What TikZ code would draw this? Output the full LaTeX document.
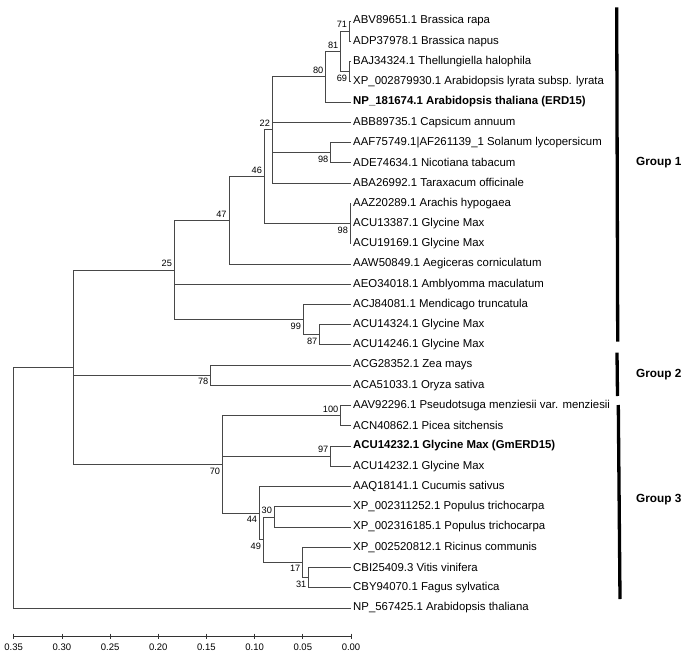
\documentclass[tikz,border=0pt]{standalone}
\usepackage{fontspec}
\setmainfont{Liberation Sans}
\usetikzlibrary{calc}

\begin{document}
\begin{tikzpicture}[
  x=1pt, y=-1pt,
  branch/.style={draw=black!72, line width=0.75pt},
  leaf/.style={anchor=west, inner sep=2pt, font=\fontsize{11.4}{13}\selectfont},
  boot/.style={inner xsep=2.2pt, inner ysep=3pt, font=\fontsize{9.2}{10}\selectfont},
  above boot/.style={boot, anchor=south east},
  below boot/.style={boot, anchor=north east},
  groupbar/.style={draw=black, line width=3.3pt},
  grouplabel/.style={anchor=west, inner sep=0pt, font=\fontsize{11.8}{13}\selectfont\bfseries},
  axis/.style={draw=black!80, line width=0.75pt},
  scalelabel/.style={anchor=north, inner sep=1pt, font=\fontsize{9.5}{11}\selectfont}
]
\useasboundingbox (0,0) rectangle (687,660);

% sequences, one row each
\foreach \i/\name in {
  1/ABV89651.1 Brassica rapa,
  2/ADP37978.1 Brassica napus,
  3/BAJ34324.1 Thellungiella halophila,
  4/XP\_002879930.1 Arabidopsis lyrata subsp. lyrata,
  5/{\bfseries NP\_181674.1 Arabidopsis thaliana (ERD15)},
  6/ABB89735.1 Capsicum annuum,
  7/AAF75749.1|AF261139\_1 Solanum lycopersicum,
  8/ADE74634.1 Nicotiana tabacum,
  9/ABA26992.1 Taraxacum officinale,
  10/AAZ20289.1 Arachis hypogaea,
  11/ACU13387.1 Glycine Max,
  12/ACU19169.1 Glycine Max,
  13/AAW50849.1 Aegiceras corniculatum,
  14/AEO34018.1 Amblyomma maculatum,
  15/ACJ84081.1 Mendicago truncatula,
  16/ACU14324.1 Glycine Max,
  17/ACU14246.1 Glycine Max,
  18/ACG28352.1 Zea mays,
  19/ACA51033.1 Oryza sativa,
  20/AAV92296.1 Pseudotsuga menziesii var. menziesii,
  21/ACN40862.1 Picea sitchensis,
  22/{\bfseries ACU14232.1 Glycine Max (GmERD15)},
  23/ACU14232.1 Glycine Max,
  24/AAQ18141.1 Cucumis sativus,
  25/XP\_002311252.1 Populus trichocarpa,
  26/XP\_002316185.1 Populus trichocarpa,
  27/XP\_002520812.1 Ricinus communis,
  28/CBI25409.3 Vitis vinifera,
  29/CBY94070.1 Fagus sylvatica,
  30/NP\_567425.1 Arabidopsis thaliana}
  \node[leaf] (l\i) at (351, {21+(\i-1)*20.24}) {\name};

% inner nodes of the tree
\coordinate (a71)  at (349.5, 31.12);
\coordinate (a69)  at (349.5, 71.60);
\coordinate (a81)  at (340.7, 51.36);
\coordinate (a80)  at (325.7, 76.66);
\coordinate (a98s) at (330.7, 152.56);
\coordinate (a22)  at (272.3, 129.79);
\coordinate (a98g) at (350.3, 223.40);
\coordinate (a46)  at (264.3, 176.60);
\coordinate (a47)  at (229.0, 220.24);
\coordinate (a87)  at (319.7, 334.72);
\coordinate (a99)  at (303.3, 319.54);
\coordinate (a25)  at (174.3, 269.89);
\coordinate (a78)  at (210.7, 375.20);
\coordinate (a100) at (340.7, 415.68);
\coordinate (a97)  at (330.7, 456.16);
\coordinate (a30)  at (274.3, 516.88);
\coordinate (a31)  at (308.7, 577.60);
\coordinate (a17)  at (302.7, 562.42);
\coordinate (a49)  at (263.3, 539.65);
\coordinate (a44)  at (259.5, 513.09);
\coordinate (a70)  at (222.5, 464.38);
\coordinate (a73)  at (73.3, 367.14);
\coordinate (root) at (13.3, 487.55);

% branches
\foreach \p/\kids in {
  a71/{l1,l2}, a69/{l3,l4}, a81/{a71,a69}, a80/{a81,l5},
  a98s/{l7,l8}, a22/{a80,l6,a98s,l9}, a98g/{l10,l11,l12},
  a46/{a22,a98g}, a47/{a46,l13}, a87/{l16,l17}, a99/{l15,a87},
  a25/{a47,l14,a99}, a78/{l18,l19}, a100/{l20,l21}, a97/{l22,l23},
  a30/{l25,l26}, a31/{l28,l29}, a17/{l27,a31}, a49/{a30,a17},
  a44/{l24,a49}, a70/{a100,a97,a44}, a73/{a25,a78,a70}, root/{a73,l30}}
  \foreach \c in \kids
    \draw[branch] (\p) |- (\c);

% bootstrap values
\foreach \p/\val in {a71/71, a81/81, a80/80, a22/22, a46/46, a47/47,
                     a25/25, a100/100, a97/97, a30/30}
  \node[above boot] (b\p) at (\p) {\val};
\foreach \p/\val in {a69/69, a98s/98, a98g/98, a99/99, a87/87, a78/78,
                     a70/70, a44/44, a49/49, a17/17, a31/31}
  \node[below boot] (b\p) at (\p) {\val};

% groups
\coordinate (g1t) at (616.7, 7.3);   \coordinate (g1b) at (617.7, 341.7);
\coordinate (g2t) at (617.0, 352.7); \coordinate (g2b) at (617.5, 396.0);
\coordinate (g3t) at (618.3, 405.0); \coordinate (g3b) at (620.0, 599.0);
\draw[groupbar] (g1t) -- (g1b);
\draw[groupbar] (g2t) -- (g2b);
\draw[groupbar] (g3t) -- (g3b);
\node[grouplabel] (grp1) at (636, 163) {Group 1};
\node[grouplabel] (grp2) at (636, 375) {Group 2};
\node[grouplabel] (grp3) at (636, 500) {Group 3};

% distance scale
\foreach \v [count=\k] in {0.35,0.30,0.25,0.20,0.15,0.10,0.05,0.00} {
  \coordinate (s\k) at ({351-963.7*\v}, 636);
  \draw[axis] ($(s\k)+(0,-2.5)$) -- ($(s\k)+(0,2.5)$);
  \node[scalelabel] (v\k) at ($(s\k)+(0,7)$) {\v};
}
\draw[axis] (s1) -- (s8);
\end{tikzpicture}
\end{document}
